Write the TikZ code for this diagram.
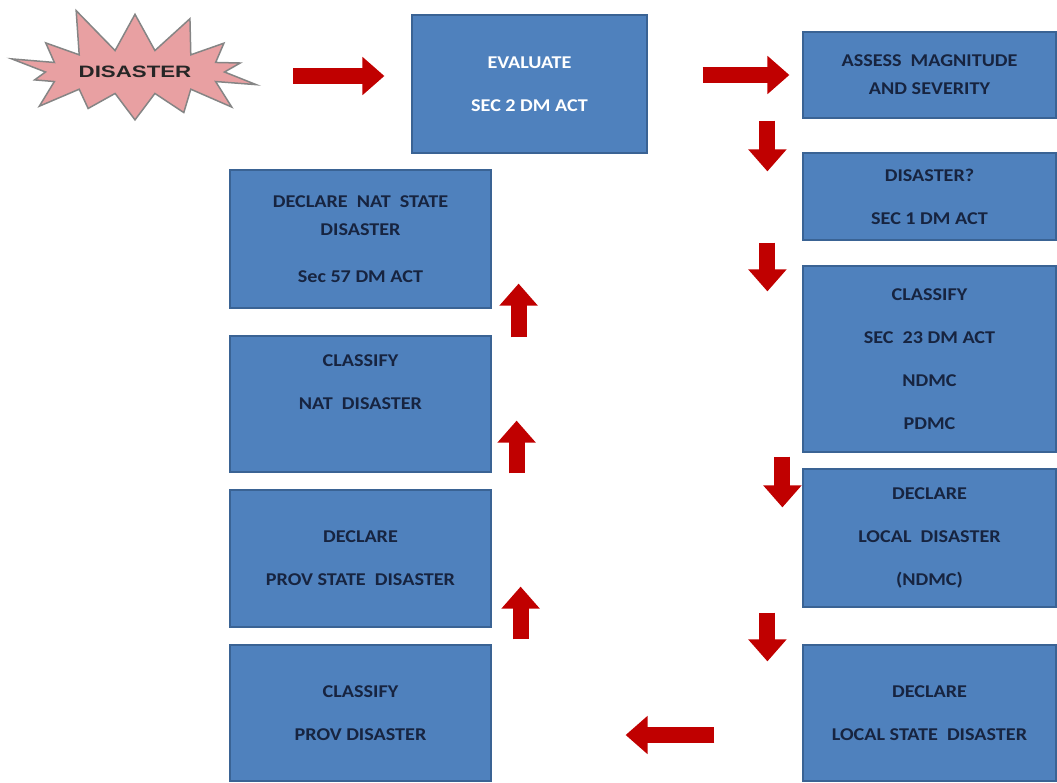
\documentclass[tikz,border=0pt]{standalone}
\usepackage{fontspec}
\setmainfont{Carlito}[FakeStretch=1.12]
\newfontfamily\starfont{Liberation Sans}[FakeStretch=1.35]
\usetikzlibrary{
    shapes.symbols,
    positioning,
    arrows.meta
}
\definecolor{boxblue}{HTML}{4F81BD}
\definecolor{boxedge}{HTML}{3A6394}
\definecolor{boxtext}{HTML}{172440}
\definecolor{arrowred}{HTML}{C00000}
\definecolor{starpink}{HTML}{E8A0A2}
\definecolor{staredge}{HTML}{858585}
\tikzset{
    dmbox/.style={
        rectangle,
        draw=boxedge,
        line width=1.2pt,
        fill=boxblue,
        text=boxtext,
        align=center,
        inner sep=2pt,
        font=\bfseries\fontsize{18}{22}\selectfont
    },
    redarrow/.style={
        arrowred,
        line width=16pt,
        -{Triangle[width=37pt,length=22pt]}
    }
}

\begin{document}
\begin{tikzpicture}[
    x=1pt,
    y=-1pt
]
    \useasboundingbox (0,0) rectangle (1057,782);

    % Inicio
    \node[starburst, starburst points=14, starburst point height=48pt,
          random starburst=11, minimum width=275pt, minimum height=140pt,
          fill=starpink, draw=staredge, line width=1.5pt, inner sep=0pt,
          font=\starfont\bfseries\fontsize{16.5}{18}\selectfont, text=black!85]
        (dis) at (135,72) {DISASTER};

    % Cajas, fila superior y columna derecha
    \node[dmbox, text=white, minimum width=235pt, minimum height=138pt]
        (eval) at (529.5,84) {EVALUATE\\[21pt]SEC 2 DM ACT};
    \node[dmbox, minimum width=253pt, minimum height=86pt]
        (assess) at (929.5,75) {ASSESS\ \ MAGNITUDE\\[6pt]AND SEVERITY};
    \node[dmbox, minimum width=253pt, minimum height=87pt]
        (disq) at (929.5,196.5) {DISASTER?\\[21pt]SEC 1 DM ACT};
    \node[dmbox, minimum width=253pt, minimum height=186pt]
        (cls) at (929.5,359) {CLASSIFY\\[21pt]SEC\ \ 23 DM ACT\\[21pt]NDMC\\[21pt]PDMC};
    \node[dmbox, minimum width=253pt, minimum height=138pt]
        (local) at (929.5,538) {DECLARE\\[21pt]LOCAL\ \ DISASTER\\[21pt](NDMC)};
    \node[dmbox, minimum width=253pt, minimum height=136pt]
        (lstate) at (929.5,713) {DECLARE\\[21pt]LOCAL\ STATE\ \ DISASTER};

    % Columna izquierda
    \node[dmbox, minimum width=261pt, minimum height=136pt]
        (pdis) at (360.5,713) {CLASSIFY\\[21pt]PROV\ DISASTER};
    \node[dmbox, minimum width=261pt, minimum height=137pt]
        (pstate) at (360.5,558.5) {DECLARE\\[21pt]PROV STATE\ \ DISASTER};
    \node[dmbox, minimum width=261pt, minimum height=136pt]
        (natcls) at (360.5,404) {CLASSIFY\\[21pt]NAT\ \ DISASTER\\[21pt]\mbox{}};
    \node[dmbox, minimum width=261pt, minimum height=138pt]
        (natstate) at (360.5,239) {DECLARE\ \ NAT\ \ STATE\\[6pt]DISASTER\\[25pt]Sec 57 DM ACT};

    % Flechas
    \draw[redarrow] ([shift={(158,4)}]dis.center) -- ([shift={(-27,-8)}]eval.west);
    \draw[redarrow] ([shift={(55,-9)}]eval.east) -- ([shift={(-13,0)}]assess.west);

    \draw[redarrow] ([shift={(-35,2)}]assess.south west) -- ([shift={(-35,19)}]disq.north west);
    \draw[redarrow] ([shift={(-35,2)}]disq.south west) -- ([shift={(-35,26)}]cls.north west);
    \draw[redarrow] ([shift={(-20,4)}]cls.south west) -- ([shift={(-20,39)}]local.north west);
    \draw[redarrow] ([shift={(-35,5)}]local.south west) -- ([shift={(-35,17)}]lstate.north west);

    \draw[redarrow] ([shift={(-88,22)}]lstate.west) -- ([shift={(134,22)}]pdis.east);

    \draw[redarrow] ([shift={(29,-5)}]pdis.north east) -- ([shift={(29,-41)}]pstate.south east);
    \draw[redarrow] ([shift={(25,-16)}]pstate.north east) -- ([shift={(25,-52)}]natcls.south east);
    \draw[redarrow] ([shift={(27,2)}]natcls.north east) -- ([shift={(27,-25)}]natstate.south east);

\end{tikzpicture}
\end{document}
